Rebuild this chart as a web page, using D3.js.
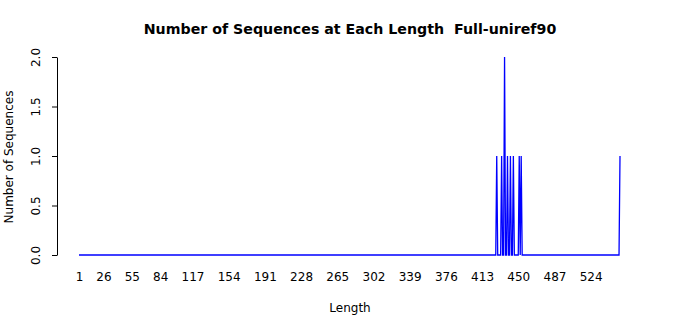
<!DOCTYPE html>
<html>
<head>
<meta charset="utf-8">
<script src="https://cdn.jsdelivr.net/npm/d3@7"></script>
<style>
  body { margin: 0; background: white; }
  text { font-family: "DejaVu Sans", sans-serif; fill: black; }
</style>
</head>
<body>
<div id="container"></div>
<script>
// sequence lengths that occur, and how many sequences have that length
const lengths = [428, 433, 436, 439, 442, 445, 451, 453, 554]
const counts = [1, 1, 2, 1, 1, 1, 1, 1, 1]
const minLength = 1
const xTickLabels = [1, 26, 55, 84, 117, 154, 191, 228, 265, 302, 339, 376, 413, 450, 487, 524]
const yTicks = [0, 0.5, 1, 1.5, 2]

const w = 700
const h = 315

const svg = d3.select("#container")
    .append("svg")
    .attr("width", w)
    .attr("height", h)
    .style("background-color", "white")

svg.append("text")
    .attr("x", 350)
    .attr("y", 34)
    .attr("text-anchor", "middle")
    .style("font-size", "14.2px")
    .style("font-weight", "bold")
    .style("white-space", "pre")
    .text("Number of Sequences at Each Length  Full-uniref90")

const maxLength = d3.max(lengths)
const xScale = d3.scaleLinear()
    .domain([minLength, maxLength])
    .range([79, 620])
const yScale = d3.scaleLinear()
    .domain([0, 2])
    .range([255, 57])

// one value per length, zero where no sequence has it
const countByLength = new Map(lengths.map((l, i) => [l, counts[i]]))
const series = d3.range(minLength, maxLength + 1)
    .map((l) => ({ len: l, n: countByLength.get(l) || 0 }))

const line = d3.line()
    .x((d) => xScale(d.len))
    .y((d) => yScale(d.n))

svg.append("path")
    .datum(series)
    .attr("d", line)
    .attr("fill", "none")
    .attr("stroke", "#0000ff")
    .attr("stroke-width", 1.3)

// y axis, labels turned like R does
const yAxis = d3.axisLeft(yScale)
    .tickValues(yTicks)
    .tickFormat(d3.format(".1f"))
    .tickSize(5)
    .tickSizeOuter(0)
    .tickPadding(0)

const gy = svg.append("g")
    .attr("transform", "translate(57, 0)")
    .call(yAxis)
gy.selectAll("path, line").attr("stroke", "black")
gy.selectAll("text")
    .attr("x", 0)
    .attr("dy", 0)
    .attr("transform", "translate(-17, 0) rotate(-90)")
    .attr("text-anchor", "middle")
    .style("font-size", "12px")

// x axis: labels only, no line or ticks
const xAxis = d3.axisBottom(xScale)
    .tickValues(xTickLabels)
    .tickSize(0)
    .tickPadding(0)
const gx = svg.append("g")
    .attr("transform", "translate(0, 272)")
    .call(xAxis)
gx.select(".domain").remove()
gx.selectAll("text")
    .style("font-size", "12px")

svg.append("text")
    .attr("x", 350)
    .attr("y", 312)
    .attr("text-anchor", "middle")
    .style("font-size", "12px")
    .text("Length")

svg.append("text")
    .attr("transform", "translate(13, 157) rotate(-90)")
    .attr("text-anchor", "middle")
    .style("font-size", "12px")
    .text("Number of Sequences")
</script>
</body>
</html>
